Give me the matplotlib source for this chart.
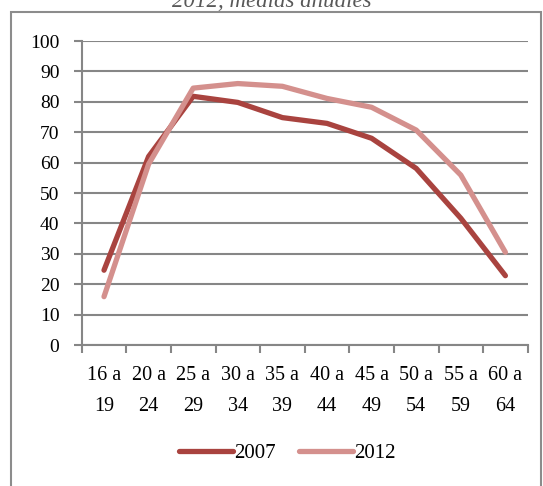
import numpy as np
import matplotlib.pyplot as plt
from matplotlib.patches import Rectangle

# datos
grupos = ["16 a\n19", "20 a\n24", "25 a\n29", "30 a\n34", "35 a\n39",
          "40 a\n44", "45 a\n49", "50 a\n54", "55 a\n59", "60 a\n64"]
tasa_2007 = [24.6, 62.0, 81.8, 79.8, 74.8, 72.9, 68.0, 58.1, 41.7, 22.8]
tasa_2012 = [15.9, 59.5, 84.5, 86.0, 85.1, 81.1, 78.2, 70.7, 55.9, 30.5]

plt.rcParams['font.family'] = ['Liberation Serif', 'DejaVu Serif']

fig = plt.figure(figsize=(5.43, 4.86), dpi=100)

# marco del gráfico
fig.patches.append(Rectangle((11 / 543, -0.05), 530 / 543, 1.05 - 12 / 486,
                             transform=fig.transFigure, fill=False,
                             edgecolor='#8c8c8c', linewidth=1.5))

fig.text(0.5, 1 - 7 / 486, "2012, medias anuales", ha='center', va='baseline',
         fontsize=16.5, style='italic', color='#595959')

ax = fig.add_axes([81.7 / 543, 1 - 345 / 486, 446 / 543, 304 / 486])

x = np.arange(len(grupos))
ax.plot(x, tasa_2007, color='#A9433F', linewidth=3.8, label='2007',
        solid_capstyle='round')
ax.plot(x, tasa_2012, color='#D4908D', linewidth=3.8, label='2012',
        solid_capstyle='round')

ax.set_xlim(-0.5, len(grupos) - 0.5)
ax.set_ylim(0, 100)
ax.set_yticks(np.arange(0, 101, 10))
ax.yaxis.grid(True, color='#868686', linewidth=1.5)
ax.set_axisbelow(True)

ax.set_xticks(np.arange(-0.5, len(grupos), 1))
ax.set_xticklabels([])
ax.set_xticks(x, minor=True)
ax.set_xticklabels(grupos, minor=True, fontsize=14.5, linespacing=1.9)
ax.tick_params(axis='x', which='minor', length=0, pad=15)
ax.tick_params(axis='x', which='major', length=6, width=1.5, color='#868686')
ax.tick_params(axis='y', length=6, width=1.5, color='#868686', labelsize=14, pad=10)

for s in ['top', 'right']:
    ax.spines[s].set_visible(False)
for s in ['left', 'bottom']:
    ax.spines[s].set_color('#868686')
    ax.spines[s].set_linewidth(1.5)

ax.legend(loc='center', bbox_to_anchor=(0.461, -0.356), ncol=2, frameon=False,
          fontsize=15, handlelength=2.6, handletextpad=0.05, columnspacing=1.1)

plt.savefig('out.png', dpi=100)
